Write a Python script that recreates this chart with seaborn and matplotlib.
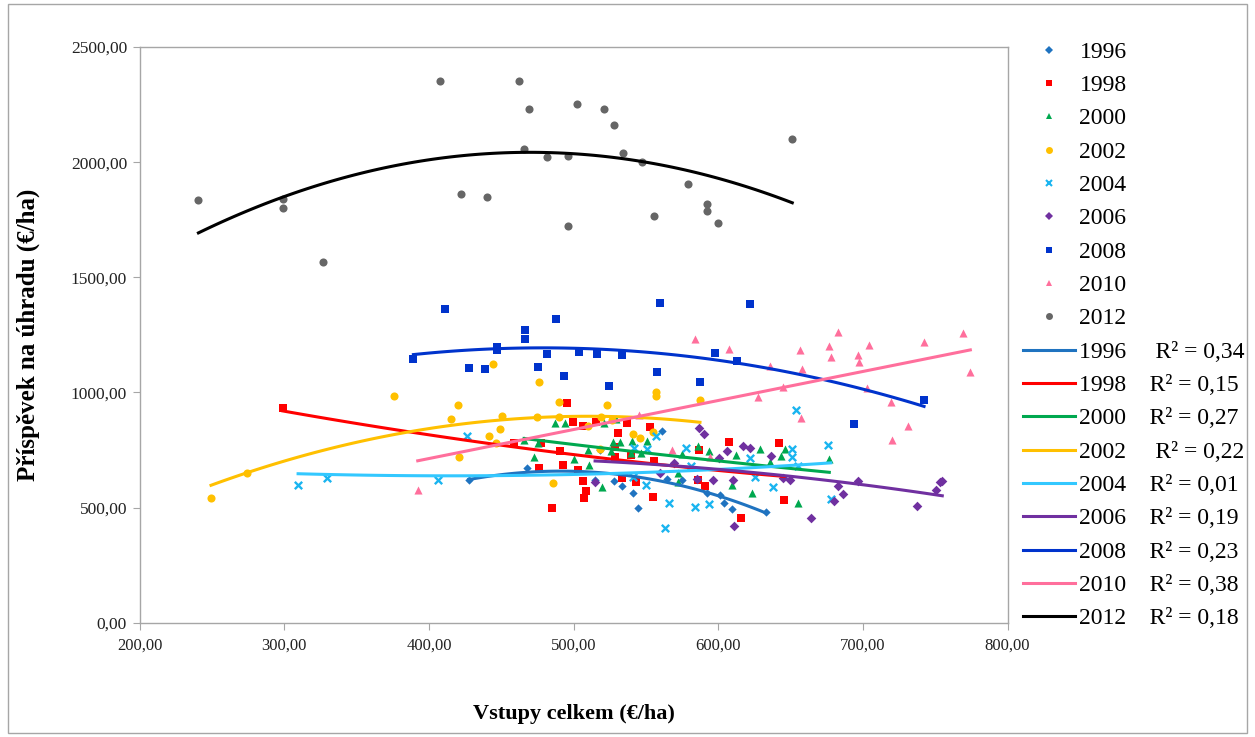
import matplotlib
matplotlib.use("Agg")
import matplotlib.pyplot as plt
import seaborn as sns
from matplotlib.lines import Line2D
from matplotlib.patches import Rectangle
from matplotlib.ticker import FuncFormatter, MultipleLocator

# data (x = Vstupy celkem, y = Příspěvek na úhradu)
x96 = [427.5, 467.6, 528.0, 533.3, 540.9, 544.8, 561.0, 564.8, 575.2, 592.0, 601.3, 604.0, 609.8, 633.0, 518.3, 514.9]
y96 = [620, 670, 614, 594, 565, 497, 834, 623, 620, 562, 554, 521, 492, 482, 750, 620]

x98 = [299.0, 458.9, 476.4, 477.5, 485.1, 490.7, 492.5, 495.3, 499.4, 502.9, 506.8, 506.8, 508.4, 507.5,
       515.5, 528.7, 528.7, 530.5, 533.3, 536.8, 539.5, 543.2, 552.9, 554.7, 555.6, 586.7, 586.3, 590.9,
       607.7, 615.8, 642.2, 645.7]
y98 = [934, 779, 673, 779, 499, 747, 685, 955, 871, 663, 855, 615, 572, 543,
       870, 764, 718, 822, 627, 866, 728, 610, 851, 547, 702, 750, 620, 594,
       783, 455, 782, 533]

x00 = [465.8, 472.9, 475.7, 487.2, 494.3, 500.5, 510.2, 510.9, 519.5, 521.2, 525.7, 527.5, 529.2, 532.1,
       539.7, 540.2, 546.5, 551.0, 572.0, 572.4, 575.2, 585.8, 593.9, 609.5, 612.1, 623.2, 628.9, 635.8,
       643.4, 646.2, 655.0, 676.8]
y00 = [793, 721, 779, 869, 869, 711, 750, 685, 591, 866, 747, 783, 883, 786,
       738, 790, 735, 790, 649, 612, 731, 769, 744, 598, 728, 562, 753, 697,
       724, 753, 521, 710]

x02 = [249.4, 274.5, 376.1, 415.3, 420.0, 420.6, 441.8, 444.6, 446.4, 449.2, 450.8, 474.8, 476.4, 486.0,
       489.8, 490.2, 510.0, 518.3, 519.0, 523.4, 526.4, 541.3, 546.0, 554.7, 557.0, 557.0, 587.4]
y02 = [543, 649, 983, 883, 944, 721, 811, 1122, 779, 842, 899, 893, 1044, 605,
       893, 958, 854, 754, 894, 944, 880, 819, 800, 829, 1003, 984, 967]

x04 = [309.6, 329.4, 406.5, 426.2, 540.9, 541.8, 550.1, 550.6, 557.0, 563.5, 566.2, 577.5, 581.0, 583.8,
       593.5, 622.0, 625.5, 637.7, 651.2, 651.2, 653.8, 655.4, 676.1, 677.8]
y04 = [598, 630, 620, 811, 634, 760, 598, 753, 811, 410, 521, 760, 680, 504,
       515, 716, 634, 588, 756, 721, 922, 682, 772, 537]

x06 = [514.9, 559.8, 569.7, 585.2, 587.0, 590.0, 596.2, 600.6, 605.9, 610.5, 611.1, 617.4, 622.0, 636.3,
       645.0, 649.6, 664.4, 680.3, 683.0, 686.5, 696.4, 737.2, 750.3, 753.3, 754.9]
y06 = [612, 651, 695, 625, 844, 821, 620, 715, 747, 618, 420, 766, 760, 725,
       627, 620, 453, 527, 594, 560, 615, 508, 576, 610, 615]

x08 = [389.3, 411.0, 427.5, 439.0, 447.3, 447.3, 466.7, 466.7, 475.7, 481.9, 488.1, 493.2, 504.0, 516.4,
       524.3, 533.3, 557.9, 559.8, 587.4, 597.8, 613.2, 622.0, 693.7, 742.3]
y08 = [1145, 1361, 1106, 1100, 1198, 1184, 1272, 1233, 1112, 1167, 1317, 1073, 1175, 1167,
       1028, 1161, 1089, 1390, 1044, 1172, 1135, 1384, 861, 967]

x10 = [392.3, 545.5, 567.9, 583.8, 594.0, 607.7, 627.3, 636.0, 645.0, 656.6, 657.2, 658.2, 676.8, 677.8,
       683.0, 696.4, 697.1, 702.7, 704.3, 719.5, 720.4, 731.0, 742.3, 769.0, 774.3]
y10 = [576, 900, 749, 1232, 721, 1188, 981, 1115, 1025, 1184, 890, 1100, 1202, 1155,
       1262, 1161, 1133, 1018, 1207, 960, 793, 855, 1218, 1257, 1089]

x12 = [240.7, 299.1, 299.1, 326.8, 408.0, 422.4, 440.1, 462.2, 469.5, 465.8, 481.9, 496.0, 496.0, 502.2,
       520.9, 527.9, 534.1, 547.3, 555.3, 579.3, 592.5, 592.5, 599.9, 651.2]
y12 = [1834, 1838, 1801, 1568, 2352, 1863, 1847, 2352, 2229, 2057, 2023, 2028, 1724, 2252,
       2229, 2162, 2041, 2002, 1767, 1906, 1818, 1789, 1734, 2102]

years = ['1996', '1998', '2000', '2002', '2004', '2006', '2008', '2010', '2012']
r2_labels = ['0,34', '0,15', '0,27', '0,22', '0,01', '0,19', '0,23', '0,38', '0,18']
trend_order = [2, 2, 2, 2, 2, 2, 2, 1, 2]
xs = [x96, x98, x00, x02, x04, x06, x08, x10, x12]
ys = [y96, y98, y00, y02, y04, y06, y08, y10, y12]

marker_colors = ['#1F73C0', '#FF0000', '#00A84F', '#FFC000', '#19B4F0', '#7030A0', '#0033CC', '#FF6F9C', '#666666']
line_colors = ['#1F73C0', '#FF0000', '#00A84F', '#FFC000', '#33C8FF', '#7030A0', '#0033CC', '#FF6F9C', '#000000']
markers = ['D', 's', '^', 'o', 'x', 'D', 's', '^', 'o']
sizes = [18, 36, 34, 34, 28, 24, 36, 34, 34]

plt.rcParams['font.family'] = ['Liberation Serif', 'DejaVu Serif']

fig = plt.figure(figsize=(12.55, 7.37), dpi=100)
ax = fig.add_axes([0.1112, 0.1551, 0.6916, 0.7811])

# markers first
for x, y, m, c, s in zip(xs, ys, markers, marker_colors, sizes):
    if m == 'x':
        sns.scatterplot(x=x, y=y, marker='x', color=c, s=s, linewidth=1.7, ax=ax, zorder=3)
    else:
        sns.scatterplot(x=x, y=y, marker=m, color=c, s=s, linewidth=0, ax=ax, zorder=3)

# trend lines (Excel-style polynomial / linear)
for x, y, c, o in zip(xs, ys, line_colors, trend_order):
    sns.regplot(x=x, y=y, order=o, ci=None, truncate=True, scatter=False,
                line_kws={'color': c, 'lw': 2.2, 'zorder': 4}, ax=ax)

ax.set_xlim(200, 800)
ax.set_ylim(0, 2500)
ax.xaxis.set_major_locator(MultipleLocator(100))
ax.yaxis.set_major_locator(MultipleLocator(500))
fmt = FuncFormatter(lambda v, p: f"{v:.2f}".replace('.', ','))
ax.xaxis.set_major_formatter(fmt)
ax.yaxis.set_major_formatter(fmt)
for sp in ax.spines.values():
    sp.set_color('#A6A6A6')
    sp.set_linewidth(1.0)
ax.tick_params(axis='both', direction='out', length=5, color='#A6A6A6', colors='#222222')
ax.tick_params(axis='x', labelsize=12, pad=6)
ax.tick_params(axis='y', labelsize=12.5, pad=4)
for t in ax.get_xticklabels() + ax.get_yticklabels():
    t.set_color('#222222')

ax.set_xlabel('Vstupy celkem (€/ha)', fontsize=16, fontweight='bold', labelpad=36)
ax.set_ylabel('Příspěvek na úhradu (€/ha)', fontsize=18, fontweight='bold', labelpad=22)

# legend: marker entries then trend line entries
handles, labels = [], []
for yr, m, c in zip(years, markers, marker_colors):
    if m == 'x':
        h = Line2D([], [], ls='none', marker='x', color=c, markersize=5, markeredgewidth=1.5)
    else:
        h = Line2D([], [], ls='none', marker=m, color=c, markersize=5 if m != 'D' else 4, markeredgewidth=0)
    handles.append(h)
    labels.append(yr)
for yr, r2, c in zip(years, r2_labels, line_colors):
    handles.append(Line2D([], [], color=c, lw=2.2))
    gap = '     ' if yr in ('1996', '2002') else '    '
    labels.append(f"{yr}{gap}R² = {r2}")

ax.legend(handles, labels, loc='upper left', bbox_to_anchor=(0.815, 0.944),
          bbox_transform=fig.transFigure, frameon=False, fontsize=17,
          handlelength=2.2, handletextpad=0.2, labelspacing=0.5,
          borderpad=0, borderaxespad=0)

fig.patches.append(Rectangle((0.006, 0.006), 0.988, 0.988, transform=fig.transFigure,
                             fill=False, edgecolor='#A6A6A6', lw=1.0))

fig.savefig('out.png', dpi=100)
